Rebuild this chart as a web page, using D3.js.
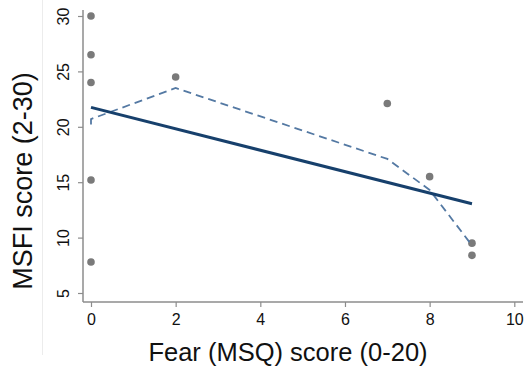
<!DOCTYPE html>
<html>
<head>
<meta charset="utf-8">
<script src="https://cdn.jsdelivr.net/npm/d3@7"></script>
<style>
  body { margin: 0; background: #fff; }
  text { font-family: "Liberation Sans", Arial, sans-serif; }
</style>
</head>
<body>
<svg id="chart" width="528" height="373"></svg>
<script>
// observed points (fear score, MSFI score)
var fear = [0, 0, 0, 0, 0, 2, 7, 8, 9, 9];
var msfi = [30, 26.5, 24, 15.2, 7.8, 24.5, 22.1, 15.5, 9.5, 8.4];

// linear fit end points
var fitX = [0, 9];
var fitY = [21.75, 13.05];

// lowess smooth
var smoothX = [0, 0, 2, 7, 8, 9];
var smoothY = [20.2, 20.7, 23.5, 17.1, 14.3, 9.3];

var xTicks = [0, 2, 4, 6, 8, 10];
var yTicks = [5, 10, 15, 20, 25, 30];

var svg = d3.select("#chart");

var x = d3.scaleLinear().domain([0, 10]).range([91, 514.3]);
var y = d3.scaleLinear().domain([5, 30]).range([293, 16]);

var axisColor = "#8c8c8c";

// faint border line on the left
svg.append("line")
  .attr("x1", 42.5).attr("x2", 42.5)
  .attr("y1", 0).attr("y2", 355)
  .attr("stroke", "#ececec")
  .attr("stroke-width", 1);

// axis lines
svg.append("line")
  .attr("x1", 83).attr("x2", 83)
  .attr("y1", 10).attr("y2", 302)
  .attr("stroke", axisColor)
  .attr("stroke-width", 1.5);

svg.append("line")
  .attr("x1", 83).attr("x2", 523)
  .attr("y1", 302).attr("y2", 302)
  .attr("stroke", axisColor)
  .attr("stroke-width", 1.5);

var gx = svg.append("g")
  .attr("transform", "translate(0,302)")
  .call(d3.axisBottom(x).tickValues(xTicks).tickSize(5).tickPadding(5));
gx.attr("font-size", 16).attr("font-family", null);
gx.select(".domain").remove();
gx.selectAll(".tick line").attr("stroke", axisColor).attr("stroke-width", 1.2);
gx.selectAll(".tick text")
  .attr("fill", "#111")
  .attr("dy", null)
  .attr("y", 23);

var gy = svg.append("g")
  .attr("transform", "translate(83,0)")
  .call(d3.axisLeft(y).tickValues(yTicks).tickSize(5));
gy.attr("font-size", 16).attr("font-family", null);
gy.select(".domain").remove();
gy.selectAll(".tick line").attr("stroke", axisColor).attr("stroke-width", 1.2);
gy.selectAll(".tick text")
  .attr("fill", "#111")
  .attr("x", 0)
  .attr("dy", null)
  .attr("y", -14.5)
  .attr("text-anchor", "middle")
  .attr("transform", "rotate(-90)");

// axis titles
svg.append("text")
  .attr("x", 288)
  .attr("y", 361)
  .attr("text-anchor", "middle")
  .attr("fill", "#111")
  .style("font-size", "25.5px")
  .text("Fear (MSQ) score (0-20)");

svg.append("text")
  .attr("transform", "translate(32,181) rotate(-90)")
  .attr("text-anchor", "middle")
  .attr("fill", "#111")
  .style("font-size", "27px")
  .text("MSFI score (2-30)");

// points
svg.selectAll("circle.pt")
  .data(fear)
  .enter()
  .append("circle")
  .attr("class", "pt")
  .attr("cx", function(d) { return x(d); })
  .attr("cy", function(d, i) { return y(msfi[i]); })
  .attr("r", 3.8)
  .attr("fill", "#7a7a7a");

// lowess line
var smoothLine = d3.line()
  .x(function(d) { return x(d); })
  .y(function(d, i) { return y(smoothY[i]); });

svg.append("path")
  .attr("d", smoothLine(smoothX))
  .attr("fill", "none")
  .attr("stroke", "#5479a3")
  .attr("stroke-width", 1.8)
  .attr("stroke-dasharray", "8,5");

// linear fit
var fitLine = d3.line()
  .x(function(d) { return x(d); })
  .y(function(d, i) { return y(fitY[i]); });

svg.append("path")
  .attr("d", fitLine(fitX))
  .attr("fill", "none")
  .attr("stroke", "#17406c")
  .attr("stroke-width", 3);
</script>
</body>
</html>
